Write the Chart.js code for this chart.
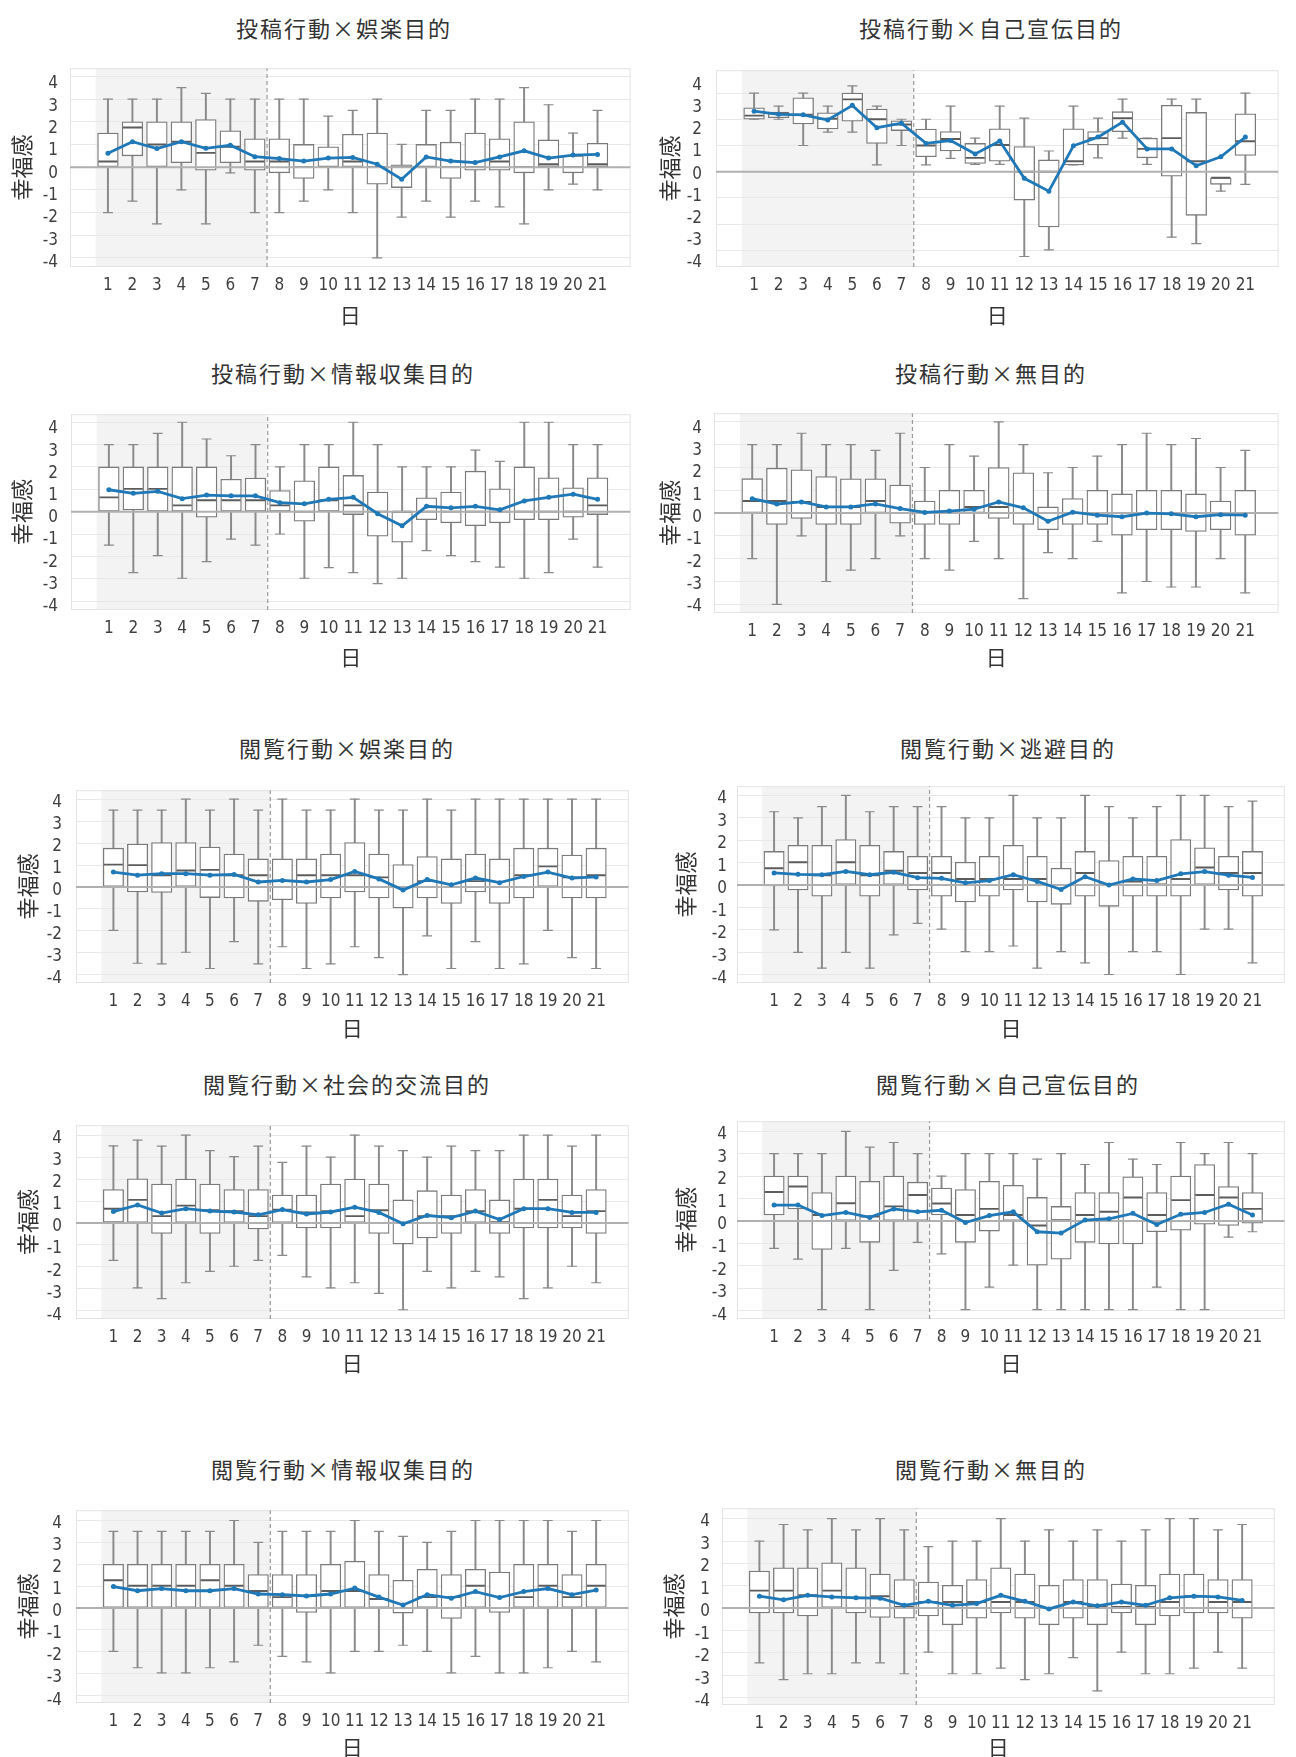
<!DOCTYPE html>
<html lang="ja">
<head>
<meta charset="utf-8">
<title>日別の幸福感（行動×目的）</title>
<script src="https://cdn.jsdelivr.net/npm/chart.js@4.4.1/dist/chart.umd.min.js"></script>
<style>
  html, body { margin: 0; padding: 0; background: #ffffff; }
  body { position: relative; width: 1296px; height: 1757px; overflow: hidden;
         font-family: "Noto Sans CJK JP", "Noto Sans", sans-serif; }
  .panel-title { position: absolute; transform: translate(-50%, -50%); white-space: nowrap;
                 font-size: 22px; letter-spacing: 2px; color: #333333; line-height: 1; }
  canvas { position: absolute; }
</style>
</head>
<body>
<script>
// ---- data ------------------------------------------------------------
const DAYS = [1, 2, 3, 4, 5, 6, 7, 8, 9, 10, 11, 12, 13, 14, 15, 16, 17, 18, 19, 20, 21];
const Y_TICK_LABELS = [-4, -3, -2, -1, 0, 1, 2, 3, 4];

const PANEL_TITLES = [
  '投稿行動×娯楽目的', '投稿行動×自己宣伝目的',
  '投稿行動×情報収集目的', '投稿行動×無目的',
  '閲覧行動×娯楽目的', '閲覧行動×逃避目的',
  '閲覧行動×社会的交流目的', '閲覧行動×自己宣伝目的',
  '閲覧行動×情報収集目的', '閲覧行動×無目的'
];

// upper whisker end per panel and day
const WHISKER_HIGH = [
  [3, 3, 3, 3.5, 3.25, 3, 3, 3, 3, 2.25, 2.5, 3, 1, 2.5, 2.5, 3, 3, 3.5, 2.75, 1.5, 2.5],
  [3, 2.5, 3, 2.5, 3.27, 2.5, 2, 2, 2.5, 1.28, 2.5, 2.04, 0.79, 2.5, 2.04, 2.77, 1.28, 2.77, 2.77, -0.23, 3],
  [3, 3, 3.5, 4, 3.25, 2.5, 3, 2, 3, 3, 4, 3, 2, 2, 2, 2.75, 2.25, 4, 4, 3, 3],
  [3, 3, 3.5, 3, 3, 2.75, 3.5, 2, 3, 2.5, 4, 3, 1.77, 2, 2.5, 3, 3.5, 3, 3.27, 2, 2.75],
  [3.5, 3.5, 3.5, 4, 3.5, 4, 3.5, 4, 3.5, 3.5, 4, 3.5, 3.5, 4, 3.5, 4, 4, 4, 4, 4, 4],
  [3.27, 3, 3.5, 4, 3.27, 3.5, 3.5, 3.5, 3, 3, 4, 3, 3, 4, 3.5, 3, 3.5, 4, 4, 3.5, 3.74],
  [3.51, 3.77, 3.5, 4, 3.29, 3.02, 3.5, 2.76, 3.5, 3, 4, 3.5, 3.29, 3, 3.5, 3.29, 3.29, 4, 4, 3.5, 4],
  [3, 3, 3, 4, 3.29, 3.5, 3, 2, 3, 3, 3, 2.76, 3, 2.52, 3.5, 2.76, 2.52, 3.5, 3, 3.5, 3],
  [3.5, 3.5, 3.5, 3.5, 3.5, 4, 3, 3.5, 3.5, 3.5, 4, 3.5, 3.27, 3, 3.5, 4, 4, 4, 4, 3.5, 4],
  [3, 3.74, 3.5, 4, 3.5, 4, 3.5, 2.75, 3, 3, 4, 3, 3.5, 3, 3.5, 3, 3.5, 4, 4, 3.5, 3.74]
];

// third quartile
const Q3 = [
  [1.5, 2, 2, 2, 2.1, 1.6, 1.25, 1.25, 1, 0.9, 1.45, 1.5, 0.1, 1, 1.1, 1.5, 1.25, 2, 1.2, 0.5, 1.05],
  [2.44, 2.27, 2.82, 2.25, 3, 2.39, 1.94, 1.63, 1.53, 1.08, 1.64, 0.96, 0.45, 1.64, 1.53, 2.29, 1.28, 2.53, 2.26, -0.23, 2.21],
  [2, 2, 2, 2, 2, 1.45, 1.5, 0.94, 1.38, 2, 1.62, 0.88, 0, 0.62, 0.88, 1.81, 1.02, 2, 1.51, 1.07, 1.51],
  [1.51, 1.97, 1.9, 1.6, 1.5, 1.5, 1.23, 0.53, 1, 1, 2, 1.77, 0.27, 0.64, 1, 0.84, 1, 1, 0.84, 0.53, 1],
  [1.77, 1.96, 2.03, 2.03, 1.82, 1.5, 1.28, 1.28, 1.28, 1.5, 2.03, 1.5, 1.02, 1.39, 1.28, 1.5, 1.28, 1.77, 1.77, 1.46, 1.77],
  [1.5, 1.77, 1.77, 2.03, 1.77, 1.5, 1.28, 1.28, 1.02, 1.28, 1.77, 1.28, 0.75, 1.5, 1.09, 1.28, 1.28, 2.03, 1.66, 1.28, 1.5],
  [1.52, 2.01, 1.77, 2, 1.77, 1.52, 1.52, 1.27, 1.27, 1.77, 2, 1.77, 1.05, 1.47, 1.27, 1.52, 1.05, 2, 2, 1.27, 1.52],
  [2, 2, 1.27, 2, 1.77, 2, 1.73, 1.47, 1.4, 1.77, 1.59, 1.05, 0.65, 1.27, 1.27, 1.97, 1.27, 2, 2.52, 1.54, 1.27],
  [2, 2, 2, 2, 2, 2, 1.53, 1.53, 1.53, 2, 2.14, 1.53, 1.27, 1.77, 1.53, 1.77, 1.64, 2, 2, 1.53, 2],
  [1.66, 1.8, 1.8, 2.03, 1.8, 1.52, 1.28, 1.16, 1.02, 1.28, 1.8, 1.52, 1.02, 1.28, 1.28, 1.07, 1.02, 1.52, 1.52, 1.28, 1.28]
];

// median
const MEDIAN = [
  [0.25, 1.75, 1, 1.12, 0.63, 0.9, 0.25, 0.25, 0, 0, 0.25, 0, 0, 0, 0, 0, 0.25, 0, 0.13, 0, 0.13],
  [2.14, 2.22, 2.17, 2.02, 2.76, 2, 1.8, 1, 1.25, 0.53, 1.02, 0, 0, 0.4, 1.28, 2.04, 0.87, 1.28, 0.4, -0.23, 1.16],
  [0.64, 1.02, 1.02, 0.28, 0.51, 0.51, 0.51, 0.28, 0, 0.51, 0.28, 0, 0, 0, 0, 0, 0, 0, 0, 0, 0.28],
  [0.53, 0.53, 0.49, 0.27, 0.27, 0.53, 0, 0, 0, 0.27, 0.27, 0, 0, 0, 0, 0, 0, 0, 0, 0, 0],
  [1.02, 1, 0.54, 0.75, 0.78, 0.54, 0.54, 0, 0.54, 0.54, 0.54, 0.44, 0, 0.27, 0, 0.27, 0, 0.54, 0.94, 0.44, 0.54],
  [0.75, 1.02, 0.44, 1.02, 0.44, 0.64, 0.54, 0.54, 0.27, 0.27, 0.27, 0.27, 0, 0.54, 0.03, 0.16, 0.03, 0.27, 0.78, 0.54, 0.54],
  [0.65, 1.05, 0.31, 0.79, 0.58, 0.54, 0.31, 0.61, 0.48, 0.54, 0.31, 0.58, 0, 0.31, 0.31, 0.54, 0.04, 0.65, 1.05, 0.31, 0.54],
  [1.29, 1.54, 0.27, 0.79, 0.2, 0.65, 1.16, 0.78, 0.27, 0.54, 0.27, -0.2, 0.04, 0.27, 0.41, 1.05, 0.27, 0.93, 1.16, 1.05, 0.54],
  [1.27, 1.02, 1.02, 1.02, 1.27, 1.02, 0.78, 0.5, 0.55, 0.78, 0.78, 0.41, 0, 0.5, 0.5, 1.02, 0, 0.5, 1.02, 0.5, 1.02],
  [0.78, 0.78, 0.57, 0.78, 0.46, 0.53, 0.05, 0.27, 0.27, 0.27, 0.27, 0.27, 0, 0.27, 0.05, 0.05, 0.05, 0.27, 0.53, 0.27, 0.27]
];

// first quartile
const Q1 = [
  [0, 0.5, 0, 0.2, -0.13, 0.2, -0.13, -0.25, -0.5, 0, 0, -0.75, -0.9, 0, -0.5, -0.13, -0.13, -0.25, 0, -0.25, 0],
  [2, 2.06, 1.82, 1.63, 1.93, 1.08, 1.57, 0.57, 0.79, 0.32, 0.4, -1.08, -2.1, 0.26, 1.02, 1.53, 0.53, -0.17, -1.66, -0.48, 0.62],
  [0, 0.08, 0, 0, -0.25, 0, 0, 0, -0.43, 0, -0.13, -1.1, -1.37, -0.36, -0.5, -0.63, -0.5, -0.36, -0.36, -0.25, -0.13],
  [0, -0.5, -0.23, -0.5, -0.5, 0, -0.44, -0.5, -0.5, 0, -0.23, -0.5, -0.73, -0.5, -0.5, -0.97, -0.73, -0.73, -0.8, -0.73, -0.97],
  [0, -0.22, -0.25, 0, -0.48, -0.5, -0.65, -0.58, -0.75, -0.5, -0.22, -0.5, -0.95, -0.5, -0.75, -0.22, -0.75, -0.5, 0, -0.5, -0.5],
  [-0.04, -0.22, -0.5, 0, -0.5, 0, -0.22, -0.5, -0.75, -0.5, -0.22, -0.75, -0.86, -0.5, -0.95, -0.5, -0.5, -0.5, 0, -0.22, -0.5],
  [0.04, 0, -0.48, 0, -0.48, 0, -0.27, 0, -0.23, -0.23, 0, -0.48, -0.95, -0.68, -0.48, 0, -0.48, -0.23, -0.23, -0.23, -0.48],
  [0.27, 0.54, -1.27, 0, -0.95, 0, 0, 0.27, -0.95, -0.45, 0, -1.97, -1.7, -0.95, -1.02, -1.02, -0.48, -0.41, -0.14, -0.2, -0.1],
  [0, 0, 0, 0, 0, 0, 0, 0, -0.2, 0, 0, 0, -0.23, 0, -0.48, 0, -0.2, 0, 0, 0, 0],
  [-0.22, -0.22, -0.35, 0.03, -0.22, -0.42, -0.45, -0.35, -0.75, -0.45, -0.22, -0.45, -0.75, -0.45, -0.75, -0.22, -0.75, -0.35, -0.22, -0.22, -0.45]
];

// lower whisker end
const WHISKER_LOW = [
  [-2, -1.5, -2.5, -1, -2.5, -0.25, -2, -2, -1.5, -1, -2, -4, -2.2, -1.5, -2.2, -1.5, -1.75, -2.5, -1, -0.75, -1],
  [2, 2, 1, 1.51, 1.51, 0.26, 1, 0.26, 0.51, 0.28, 0.28, -3.23, -2.98, 0.26, 0.53, 1.28, 0.28, -2.49, -2.74, -0.74, -0.48],
  [-1.5, -2.73, -1.97, -2.98, -2.24, -1.23, -1.5, -1, -2.98, -2.5, -2.73, -3.22, -2.98, -1.74, -1.97, -2.24, -2.48, -2.98, -2.73, -1.23, -2.48],
  [-2, -4, -1, -3, -2.5, -2, -1, -2, -2.5, -1.24, -2, -3.75, -1.73, -2, -1.24, -3.5, -3, -3.24, -3.24, -2, -3.5],
  [-1.97, -3.47, -3.5, -2.97, -3.71, -2.49, -3.5, -2.72, -3.71, -3.5, -2.72, -3.21, -3.99, -2.22, -3.71, -2.49, -3.71, -3.5, -1.97, -3.21, -3.71],
  [-2, -3, -3.71, -3, -3.71, -2.22, -1.71, -1.97, -2.97, -2.97, -2.72, -3.71, -2.97, -3.47, -3.99, -2.97, -2.97, -3.99, -1.97, -1.97, -3.47],
  [-1.7, -2.95, -3.44, -2.72, -2.2, -1.97, -1.7, -1.47, -2.45, -2.95, -2.72, -3.2, -3.95, -2.2, -2.95, -2.2, -2.45, -3.44, -2.95, -1.97, -2.72],
  [-1.22, -1.7, -3.95, -1.22, -3.95, -2.2, -0.95, -1.47, -3.95, -2.95, -1.97, -3.95, -3.95, -3.95, -3.95, -3.95, -2.95, -3.95, -3.95, -0.72, -0.48],
  [-1.98, -2.73, -2.96, -2.96, -2.73, -2.46, -1.7, -2.21, -2.46, -2.96, -1.98, -1.98, -1.7, -1.98, -2.96, -2.21, -2.96, -2.96, -2.73, -1.98, -2.46],
  [-2.45, -3.2, -2.94, -2.94, -2.45, -2.45, -2.94, -1.97, -2.94, -2.94, -2.69, -3.2, -2.94, -2.22, -3.71, -1.97, -2.94, -2.94, -2.69, -1.97, -2.69]
];

// daily mean
const MEAN = [
  [0.61, 1.12, 0.82, 1.12, 0.83, 0.97, 0.46, 0.38, 0.27, 0.4, 0.43, 0.13, -0.53, 0.45, 0.27, 0.2, 0.45, 0.72, 0.4, 0.53, 0.56],
  [2.31, 2.19, 2.17, 1.97, 2.53, 1.68, 1.85, 1.08, 1.19, 0.68, 1.17, -0.25, -0.74, 0.99, 1.32, 1.89, 0.87, 0.87, 0.23, 0.57, 1.32],
  [0.98, 0.82, 0.91, 0.58, 0.74, 0.71, 0.71, 0.4, 0.35, 0.55, 0.64, -0.09, -0.63, 0.24, 0.17, 0.24, 0.08, 0.48, 0.64, 0.78, 0.55],
  [0.63, 0.4, 0.49, 0.27, 0.27, 0.4, 0.2, 0.03, 0.09, 0.17, 0.49, 0.23, -0.36, 0.04, -0.09, -0.16, 0, -0.03, -0.16, -0.07, -0.09],
  [0.68, 0.54, 0.61, 0.61, 0.54, 0.57, 0.23, 0.3, 0.23, 0.34, 0.71, 0.37, -0.14, 0.34, 0.1, 0.41, 0.2, 0.48, 0.68, 0.41, 0.46],
  [0.54, 0.48, 0.46, 0.61, 0.46, 0.57, 0.33, 0.3, 0.1, 0.2, 0.46, 0.16, -0.2, 0.37, 0, 0.27, 0.2, 0.5, 0.6, 0.44, 0.34],
  [0.52, 0.82, 0.45, 0.65, 0.54, 0.5, 0.37, 0.61, 0.41, 0.5, 0.72, 0.48, -0.04, 0.34, 0.24, 0.54, 0.16, 0.65, 0.65, 0.48, 0.48],
  [0.71, 0.71, 0.24, 0.38, 0.16, 0.54, 0.41, 0.48, -0.07, 0.24, 0.41, -0.48, -0.54, 0.04, 0.1, 0.34, -0.16, 0.3, 0.38, 0.75, 0.27],
  [0.98, 0.79, 0.89, 0.79, 0.79, 0.89, 0.64, 0.61, 0.55, 0.64, 0.91, 0.5, 0.14, 0.61, 0.45, 0.75, 0.48, 0.75, 0.89, 0.61, 0.82],
  [0.53, 0.37, 0.57, 0.5, 0.46, 0.44, 0.12, 0.3, 0.12, 0.2, 0.57, 0.3, -0.04, 0.27, 0.1, 0.27, 0.12, 0.46, 0.53, 0.5, 0.34]
];

// first week (days 1-7) is shaded, a dashed rule separates it from the rest
const FIRST_WEEK = [0.5, 7.5];

// ---- layout (page pixels) -------------------------------------------
const X_RANGE = [-0.55, 22.35];
const LAYOUT = [
  { tx: 344, ty: 27,   x0: 70,  x1: 640,  y0: 48,   y1: 267,  yTitleX: 21,  yLabelRight: 58,  xTitleY: 315,  grid: [-4.4, 4.36],  labels: [-4.2, 4.7] },
  { tx: 991, ty: 27,   x0: 716, x1: 1288, y0: 48,   y1: 267,  yTitleX: 669, yLabelRight: 702, xTitleY: 315,  grid: [-3.63, 3.87], labels: [-4.2, 4.7] },
  { tx: 343, ty: 372,  x0: 71,  x1: 640,  y0: 393,  y1: 610,  yTitleX: 21,  yLabelRight: 58,  xTitleY: 657,  grid: [-4.4, 4.36],  labels: [-4.15, 4.67] },
  { tx: 991, ty: 372,  x0: 714, x1: 1288, y0: 393,  y1: 613,  yTitleX: 669, yLabelRight: 702, xTitleY: 657,  grid: [-4.38, 4.38], labels: [-4.27, 4.67] },
  { tx: 347, ty: 747,  x0: 76,  x1: 638,  y0: 768,  y1: 983,  yTitleX: 27,  yLabelRight: 62,  xTitleY: 1028, grid: [-4.37, 4.41], labels: [-4.19, 4.55] },
  { tx: 1008, ty: 747, x0: 737, x1: 1296, y0: 768,  y1: 983,  yTitleX: 685, yLabelRight: 727, xTitleY: 1028, grid: [-4.37, 4.41], labels: [-4.19, 4.55] },
  { tx: 347, ty: 1083, x0: 76,  x1: 638,  y0: 1103, y1: 1319, yTitleX: 27,  yLabelRight: 62,  xTitleY: 1363, grid: [-4.37, 4.45], labels: [-4.17, 4.61] },
  { tx: 1008, ty: 1083, x0: 737, x1: 1296, y0: 1103, y1: 1319, yTitleX: 685, yLabelRight: 727, xTitleY: 1363, grid: [-4.37, 4.45], labels: [-4.17, 4.61] },
  { tx: 343, ty: 1468, x0: 76,  x1: 638,  y0: 1488, y1: 1703, yTitleX: 27,  yLabelRight: 62,  xTitleY: 1747, grid: [-4.34, 4.47], labels: [-4.13, 4.61] },
  { tx: 991, ty: 1468, x0: 722, x1: 1284, y0: 1488, y1: 1705, yTitleX: 673, yLabelRight: 710, xTitleY: 1747, grid: [-4.34, 4.47], labels: [-4.13, 4.61] }
];

const FONT_CJK = '"Noto Sans CJK JP", "Noto Sans", sans-serif';
const FONT_NUM = '"Liberation Sans Narrow", "DejaVu Sans Condensed", "Roboto", sans-serif';
const C_TEXT = '#333333', C_TICK = '#3f3f3f';
const C_WHISKER = '#8a8a8a', C_BOX = '#7a7a7a', C_MEDIAN = '#5c5c5c';
const C_MEAN = '#1f78b8', C_ZERO = '#b0b0b0', C_GRID = '#e8e8e8', C_SHADE = '#f3f3f3';

// shaded first week and a thin frame round the plot area, under the grid
const backdrop = {
  id: 'backdrop',
  beforeDraw(chart) {
    const { ctx, chartArea: a, scales: { x } } = chart;
    ctx.save();
    ctx.fillStyle = C_SHADE;
    const s0 = x.getPixelForValue(FIRST_WEEK[0]);
    const s1 = x.getPixelForValue(FIRST_WEEK[1]);
    ctx.fillRect(s0, a.top, s1 - s0, a.bottom - a.top);
    ctx.strokeStyle = '#e3e3e3';
    ctx.lineWidth = 1;
    ctx.strokeRect(a.left + 0.5, a.top + 0.5, a.right - a.left - 1, a.bottom - a.top - 1);
    ctx.restore();
  }
};

Chart.defaults.font.family = FONT_CJK;

PANEL_TITLES.forEach((title, i) => {
  const p = LAYOUT[i];

  const head = document.createElement('div');
  head.className = 'panel-title';
  head.textContent = title;
  head.style.left = p.tx + 'px';
  head.style.top = p.ty + 'px';
  document.body.appendChild(head);

  const left = p.yTitleX - 14;
  const top = p.y0 - 2;
  const right = Math.min(1296, p.x1 + 2);
  const bottom = p.xTitleY + 13;
  const canvas = document.createElement('canvas');
  canvas.width = right - left;
  canvas.height = bottom - top;
  canvas.style.left = left + 'px';
  canvas.style.top = top + 'px';
  document.body.appendChild(canvas);

  const pxPerDay = (p.x1 - p.x0) / (X_RANGE[1] - X_RANGE[0]);
  const boxWidth = 0.83 * pxPerDay;

  const whiskers = DAYS.map((d, k) => ({ x: d, y: [WHISKER_LOW[i][k], WHISKER_HIGH[i][k]] }));
  const boxes = DAYS.map((d, k) => ({ x: d, y: [Q1[i][k], Q3[i][k]] }));
  const caps = DAYS.flatMap((d, k) => [{ x: d, y: WHISKER_HIGH[i][k] }, { x: d, y: WHISKER_LOW[i][k] }]);
  const medians = DAYS.map((d, k) => ({ x: d, y: MEDIAN[i][k] }));
  const means = DAYS.map((d, k) => ({ x: d, y: MEAN[i][k] }));

  new Chart(canvas, {
    type: 'bar',
    data: {
      datasets: [
        { type: 'line', label: '平均', data: means, order: 1,
          borderColor: C_MEAN, borderWidth: 2.8, tension: 0,
          pointRadius: 2.5, pointBackgroundColor: C_MEAN, pointBorderWidth: 0 },
        { type: 'line', label: 'divider', order: 2,
          data: [{ x: FIRST_WEEK[1], y: p.grid[0] }, { x: FIRST_WEEK[1], y: p.grid[1] }],
          borderColor: '#9a9a9a', borderWidth: 1.2, borderDash: [4, 3], pointRadius: 0 },
        { type: 'line', label: 'zero', order: 3,
          data: [{ x: X_RANGE[0], y: 0 }, { x: X_RANGE[1], y: 0 }],
          borderColor: C_ZERO, borderWidth: 2, pointRadius: 0 },
        { type: 'line', label: '中央値', data: medians, order: 4, showLine: false,
          pointStyle: 'line', pointRadius: boxWidth / 2 - 0.8,
          pointBorderColor: C_MEDIAN, pointBorderWidth: 1.9 },
        { type: 'bar', label: '四分位範囲', data: boxes, order: 5, grouped: false,
          barThickness: boxWidth, backgroundColor: '#ffffff',
          borderColor: C_BOX, borderWidth: 1.3, borderSkipped: false },
        { type: 'line', label: 'caps', data: caps, order: 6, showLine: false,
          pointStyle: 'line', pointRadius: 0.2 * pxPerDay,
          pointBorderColor: C_WHISKER, pointBorderWidth: 1.2 },
        { type: 'bar', label: 'whiskers', data: whiskers, order: 7, grouped: false,
          barThickness: 1.3, backgroundColor: C_WHISKER, borderWidth: 0 }
      ]
    },
    options: {
      responsive: false,
      animation: false,
      devicePixelRatio: 1,
      events: [],
      layout: { padding: { left: 0, top: 2, right: right - p.x1, bottom: 0 } },
      plugins: { legend: { display: false }, tooltip: { enabled: false } },
      scales: {
        x: {
          type: 'linear', position: 'bottom',
          min: X_RANGE[0], max: X_RANGE[1], offset: false,
          grid: { display: false, drawTicks: false, offset: false },
          border: { display: false },
          afterBuildTicks: (axis) => { axis.ticks = DAYS.map(v => ({ value: v })); },
          afterFit: (axis) => { axis.height = bottom - p.y1; },
          ticks: { autoSkip: false, maxRotation: 0, padding: 8, color: C_TICK,
                   font: { family: FONT_NUM, size: 17 } },
          title: { display: true, text: '日', color: C_TEXT, padding: { top: 0, bottom: 0 },
                   font: { family: FONT_CJK, size: 21 } }
        },
        y: {
          type: 'linear', position: 'left',
          min: p.grid[0], max: p.grid[1],
          grid: { color: C_GRID, lineWidth: 1, drawTicks: false },
          border: { display: false },
          ticks: { display: false, stepSize: 1, includeBounds: false },
          afterFit: (axis) => { axis.width = 0; }
        },
        yl: {
          type: 'linear', position: 'left',
          min: p.labels[0], max: p.labels[1],
          grid: { display: false, drawTicks: false },
          border: { display: false },
          afterBuildTicks: (axis) => { axis.ticks = Y_TICK_LABELS.map(v => ({ value: v })); },
          afterFit: (axis) => { axis.width = p.x0 - left; },
          ticks: { padding: p.x0 - p.yLabelRight, color: C_TICK,
                   font: { family: FONT_NUM, size: 17 } },
          title: { display: true, text: '幸福感', color: C_TEXT, padding: { top: 1, bottom: 0 },
                   font: { family: FONT_CJK, size: 22 } }
        }
      }
    },
    plugins: [backdrop]
  });
});
</script>
</body>
</html>
